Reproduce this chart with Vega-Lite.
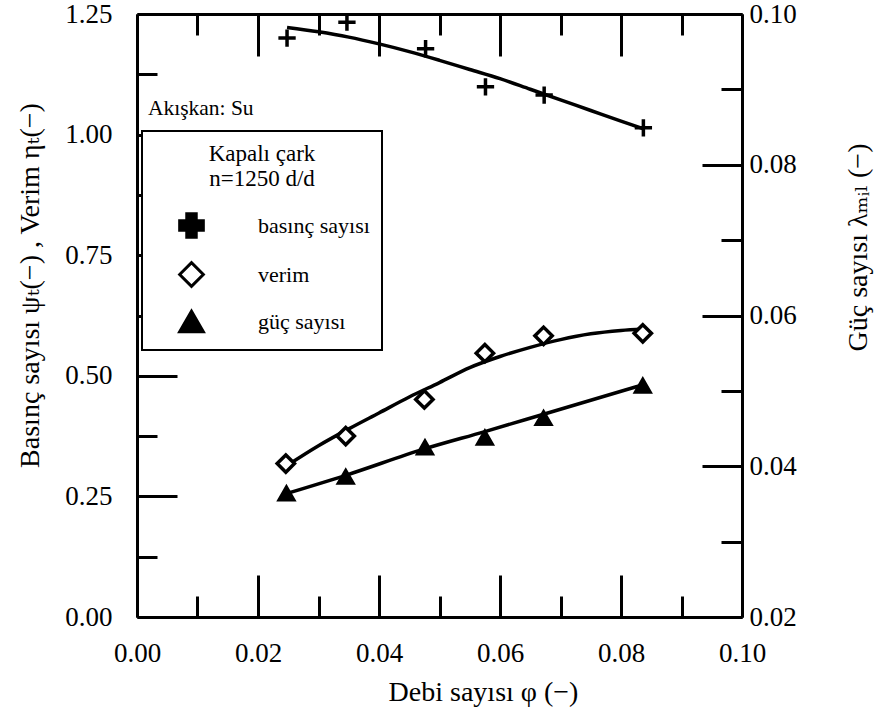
{
  "$schema": "https://vega.github.io/schema/vega-lite/v6.json",
  "width": 605,
  "height": 603,
  "autosize": "none",
  "padding": {"left": 137, "top": 14, "right": 136, "bottom": 108},
  "background": "white",
  "config": {
    "view": {"stroke": null},
    "axis": {
      "labelFont": "Times New Roman, Liberation Serif, DejaVu Serif, serif",
      "labelFontSize": 27,
      "labelColor": "black",
      "titleFont": "Times New Roman, Liberation Serif, DejaVu Serif, serif",
      "titleFontSize": 28,
      "titleFontWeight": "normal",
      "titleColor": "black",
      "domainColor": "black",
      "domainWidth": 3,
      "tickColor": "black",
      "tickWidth": 3,
      "grid": false,
      "labelFlush": false,
      "labelOverlap": false
    }
  },
  "datasets": {
    "pts": [
      {"phi": 0.0248, "val": 1.200, "series": "basınç sayısı"},
      {"phi": 0.0347, "val": 1.233, "series": "basınç sayısı"},
      {"phi": 0.0477, "val": 1.178, "series": "basınç sayısı"},
      {"phi": 0.0576, "val": 1.099, "series": "basınç sayısı"},
      {"phi": 0.0673, "val": 1.082, "series": "basınç sayısı"},
      {"phi": 0.0837, "val": 1.014, "series": "basınç sayısı"},
      {"phi": 0.0246, "val": 0.318, "series": "verim"},
      {"phi": 0.0345, "val": 0.375, "series": "verim"},
      {"phi": 0.0475, "val": 0.451, "series": "verim"},
      {"phi": 0.0575, "val": 0.547, "series": "verim"},
      {"phi": 0.0672, "val": 0.583, "series": "verim"},
      {"phi": 0.0836, "val": 0.588, "series": "verim"}
    ],
    "ptsR": [
      {"phi": 0.0247, "val": 0.0364, "series": "güç sayısı"},
      {"phi": 0.0345, "val": 0.0386, "series": "güç sayısı"},
      {"phi": 0.0476, "val": 0.0425, "series": "güç sayısı"},
      {"phi": 0.0575, "val": 0.0438, "series": "güç sayısı"},
      {"phi": 0.0672, "val": 0.0464, "series": "güç sayısı"},
      {"phi": 0.0836, "val": 0.0507, "series": "güç sayısı"}
    ],
    "curves": [
      {"phi": 0.0248, "val": 1.222, "series": "basınç sayısı"},
      {"phi": 0.030, "val": 1.213, "series": "basınç sayısı"},
      {"phi": 0.035, "val": 1.202, "series": "basınç sayısı"},
      {"phi": 0.040, "val": 1.188, "series": "basınç sayısı"},
      {"phi": 0.045, "val": 1.172, "series": "basınç sayısı"},
      {"phi": 0.050, "val": 1.154, "series": "basınç sayısı"},
      {"phi": 0.055, "val": 1.135, "series": "basınç sayısı"},
      {"phi": 0.060, "val": 1.116, "series": "basınç sayısı"},
      {"phi": 0.065, "val": 1.094, "series": "basınç sayısı"},
      {"phi": 0.070, "val": 1.072, "series": "basınç sayısı"},
      {"phi": 0.075, "val": 1.050, "series": "basınç sayısı"},
      {"phi": 0.080, "val": 1.028, "series": "basınç sayısı"},
      {"phi": 0.0837, "val": 1.012, "series": "basınç sayısı"},
      {"phi": 0.0248, "val": 0.314, "series": "verim"},
      {"phi": 0.030, "val": 0.355, "series": "verim"},
      {"phi": 0.035, "val": 0.390, "series": "verim"},
      {"phi": 0.040, "val": 0.423, "series": "verim"},
      {"phi": 0.045, "val": 0.456, "series": "verim"},
      {"phi": 0.050, "val": 0.486, "series": "verim"},
      {"phi": 0.055, "val": 0.517, "series": "verim"},
      {"phi": 0.060, "val": 0.540, "series": "verim"},
      {"phi": 0.065, "val": 0.559, "series": "verim"},
      {"phi": 0.070, "val": 0.575, "series": "verim"},
      {"phi": 0.075, "val": 0.587, "series": "verim"},
      {"phi": 0.080, "val": 0.594, "series": "verim"},
      {"phi": 0.0836, "val": 0.597, "series": "verim"}
    ],
    "curvesR": [
      {"phi": 0.0248, "val": 0.0364, "series": "güç sayısı"},
      {"phi": 0.0345, "val": 0.0388, "series": "güç sayısı"},
      {"phi": 0.0475, "val": 0.0423, "series": "güç sayısı"},
      {"phi": 0.0575, "val": 0.0446, "series": "güç sayısı"},
      {"phi": 0.0672, "val": 0.0469, "series": "güç sayısı"},
      {"phi": 0.0836, "val": 0.0508, "series": "güç sayısı"}
    ],
    "notes": [
      {"phi": 0.0018, "val": 1.04, "label": "Akışkan: Su"}
    ]
  },
  "layer": [
    {
      "data": {"name": "curves"},
      "mark": {"type": "line", "color": "black", "strokeWidth": 3.5, "interpolate": "monotone"},
      "encoding": {
        "x": {"field": "phi", "type": "quantitative",
          "scale": {"domain": [0, 0.1], "nice": false, "zero": false},
          "axis": {"orient": "bottom", "values": [0, 0.02, 0.04, 0.06, 0.08, 0.1], "format": ".2f",
            "tickSize": -42, "labelPadding": 65, "title": "Debi sayısı   φ (−)",
            "titleX": 346, "titleY": 83, "titleBaseline": "alphabetic", "titleAnchor": null, "titleAlign": "center"}},
        "y": {"field": "val", "type": "quantitative",
          "scale": {"domain": [0, 1.25], "nice": false, "zero": false},
          "axis": {"orient": "left", "values": [0, 0.25, 0.5, 0.75, 1.0, 1.25], "format": ".2f",
            "tickSize": -40, "labelPadding": 65, "title": "Basınç sayısı  ψₜ(−) , Verim  ηₜ(−)",
            "titleX": -107, "titleY": 271, "titleAngle": 270, "titleBaseline": "middle", "titleAlign": "center", "titleAnchor": null}},
        "detail": {"field": "series"}
      }
    },
    {
      "data": {"name": "pts"},
      "mark": {"type": "point", "stroke": "black", "strokeWidth": 3.5, "opacity": 1, "filled": true},
      "encoding": {
        "x": {"field": "phi", "type": "quantitative",
          "scale": {"domain": [0, 0.1], "nice": false, "zero": false},
          "axis": {"orient": "top", "values": [0, 0.02, 0.04, 0.06, 0.08, 0.1], "tickSize": -42, "labels": false, "title": null}},
        "y": {"field": "val", "type": "quantitative",
          "scale": {"domain": [0, 1.25], "nice": false, "zero": false},
          "axis": {"orient": "left", "values": [0.125, 0.375, 0.625, 0.875, 1.125], "tickSize": -20, "labels": false, "domain": false, "title": null}},
        "shape": {
          "condition": {"test": "datum.series === 'basınç sayısı'", "value": "M-1,0H1M0,-1V1"},
          "field": "series", "type": "nominal", "title": ["Kapalı çark", "n=1250 d/d"],
          "scale": {"domain": ["basınç sayısı", "verim", "güç sayısı"], "range": ["cross", "diamond", "triangle-up"]},
          "legend": {"orient": "none", "legendX": 5, "legendY": 117, "direction": "vertical", "padding": 12,
            "strokeColor": "black", "fillColor": "white",
            "titleFont": "Times New Roman, Liberation Serif, DejaVu Serif, serif", "titleFontSize": 23, "titleFontWeight": "normal", "titleColor": "black",
            "titleAnchor": "middle", "titleAlign": "center", "titleLineHeight": 25, "titlePadding": 21,
            "labelFont": "Times New Roman, Liberation Serif, DejaVu Serif, serif", "labelFontSize": 22, "labelColor": "black", "labelOffset": 53,
            "symbolOffset": 24, "symbolSize": 560, "symbolStrokeColor": "black", "symbolStrokeWidth": 3, "symbolOpacity": 1,
            "rowPadding": 12,
            "encode": {"legend": {"update": {"strokeWidth": {"value": 2}}}}}
        },
        "fill": {
          "field": "series", "type": "nominal", "title": ["Kapalı çark", "n=1250 d/d"],
          "scale": {"domain": ["basınç sayısı", "verim", "güç sayısı"], "range": ["black", "white", "black"]},
          "legend": {"orient": "none", "legendX": 5, "legendY": 117, "direction": "vertical", "padding": 12,
            "strokeColor": "black", "fillColor": "white",
            "titleFont": "Times New Roman, Liberation Serif, DejaVu Serif, serif", "titleFontSize": 23, "titleFontWeight": "normal", "titleColor": "black",
            "titleAnchor": "middle", "titleAlign": "center", "titleLineHeight": 25, "titlePadding": 21,
            "labelFont": "Times New Roman, Liberation Serif, DejaVu Serif, serif", "labelFontSize": 22, "labelColor": "black", "labelOffset": 53,
            "symbolOffset": 24, "symbolSize": 560, "symbolStrokeColor": "black", "symbolStrokeWidth": 3, "symbolOpacity": 1,
            "rowPadding": 12,
            "encode": {"legend": {"update": {"strokeWidth": {"value": 2}}}}}
        },
        "size": {"value": 300}
      }
    },
    {
      "data": {"name": "curvesR"},
      "mark": {"type": "line", "color": "black", "strokeWidth": 3.5, "interpolate": "monotone"},
      "encoding": {
        "x": {"field": "phi", "type": "quantitative",
          "scale": {"domain": [0, 0.1], "nice": false, "zero": false},
          "axis": {"orient": "bottom", "values": [0.01, 0.03, 0.05, 0.07, 0.09], "tickSize": -21, "labels": false, "domain": false, "title": null}},
        "y": {"field": "val", "type": "quantitative",
          "scale": {"domain": [0.02, 0.1], "nice": false, "zero": false},
          "axis": {"orient": "right", "values": [0.02, 0.04, 0.06, 0.08, 0.1], "format": ".2f",
            "tickSize": -40, "labelPadding": 47, "title": "Güç sayısı  λₘᵢₗ (−)",
            "titleX": 116, "titleY": 233, "titleAngle": 270, "titleBaseline": "middle", "titleAlign": "center", "titleAnchor": null}}
      }
    },
    {
      "data": {"name": "ptsR"},
      "mark": {"type": "point", "stroke": "black", "strokeWidth": 3, "opacity": 1, "filled": true},
      "encoding": {
        "x": {"field": "phi", "type": "quantitative",
          "scale": {"domain": [0, 0.1], "nice": false, "zero": false},
          "axis": {"orient": "top", "values": [0.01, 0.03, 0.05, 0.07, 0.09], "tickSize": -21, "labels": false, "domain": false, "title": null}},
        "y": {"field": "val", "type": "quantitative",
          "scale": {"domain": [0.02, 0.1], "nice": false, "zero": false},
          "axis": {"orient": "right", "values": [0.03, 0.05, 0.07, 0.09], "tickSize": -21, "labels": false, "domain": false, "title": null}},
        "shape": {"field": "series", "type": "nominal", "title": ["Kapalı çark", "n=1250 d/d"]},
        "fill": {"field": "series", "type": "nominal", "title": ["Kapalı çark", "n=1250 d/d"]},
        "size": {"value": 230}
      }
    },
    {
      "data": {"name": "notes"},
      "mark": {"type": "text", "align": "left", "baseline": "alphabetic", "font": "Times New Roman, Liberation Serif, DejaVu Serif, serif", "fontSize": 21.5, "color": "black"},
      "encoding": {
        "x": {"field": "phi", "type": "quantitative", "scale": {"domain": [0, 0.1], "nice": false, "zero": false}, "axis": null},
        "y": {"field": "val", "type": "quantitative", "scale": {"domain": [0, 1.25], "nice": false, "zero": false}, "axis": null},
        "text": {"field": "label"}
      }
    }
  ],
  "resolve": {
    "scale": {"y": "independent"},
    "axis": {"x": "independent", "y": "independent"}
  }
}
